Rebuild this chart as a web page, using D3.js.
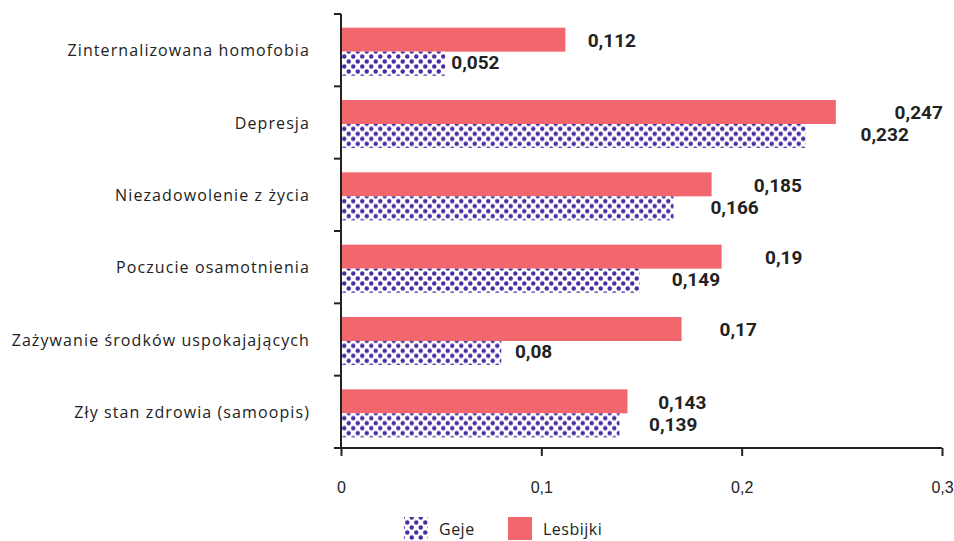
<!DOCTYPE html>
<html>
<head>
<meta charset="utf-8">
<script src="https://cdn.jsdelivr.net/npm/d3@7"></script>
<style>
  html, body { margin: 0; padding: 0; background: #fff; }
  svg { display: block; }
</style>
</head>
<body>
<svg id="chart" width="954" height="541"></svg>
<script>
const categories = [
  "Zinternalizowana homofobia",
  "Depresja",
  "Niezadowolenie z życia",
  "Poczucie osamotnienia",
  "Zażywanie środków uspokajających",
  "Zły stan zdrowia (samoopis)"
];
const seriesNames = ["Lesbijki", "Geje"];
const lesbijki = [0.112, 0.247, 0.185, 0.19, 0.17, 0.143];
const geje = [0.052, 0.232, 0.166, 0.149, 0.08, 0.139];
const lesbijkiLabels = ["0,112", "0,247", "0,185", "0,19", "0,17", "0,143"];
const gejeLabels = ["0,052", "0,232", "0,166", "0,149", "0,08", "0,139"];
const xTicks = [0, 0.1, 0.2, 0.3];
const xTickLabels = ["0", "0,1", "0,2", "0,3"];
const legendItems = ["Geje", "Lesbijki"];

const RED = "#f2676e";
const PURPLE = "#4a2ea3";
const AXIS = "#222";

const svg = d3.select("#chart");
const defs = svg.append("defs");
const pat = defs.append("pattern")
  .attr("id", "dots").attr("patternUnits", "userSpaceOnUse")
  .attr("width", 9).attr("height", 10);
pat.append("rect").attr("width", 9).attr("height", 10).attr("fill", "#fff");
pat.append("circle").attr("cx", 2.25).attr("cy", 2.5).attr("r", 2.2).attr("fill", PURPLE);
pat.append("circle").attr("cx", 6.75).attr("cy", 7.5).attr("r", 2.2).attr("fill", PURPLE);

const x = d3.scaleLinear().domain([0, 0.3]).range([341, 942]);
const y = d3.scaleBand().domain(categories).range([14, 448]).padding(0);
const barH = 24;
const sub = d3.scaleBand().domain(seriesNames)
  .range([(y.step() - 2 * barH) / 2 + 1.5, (y.step() + 2 * barH) / 2 + 1.5]);

const data = categories.map((c, i) => ({
  cat: c,
  vals: [
    { s: "Lesbijki", v: lesbijki[i], label: lesbijkiLabels[i], fill: RED, dy: 1 },
    { s: "Geje", v: geje[i], label: gejeLabels[i], fill: "url(#dots)", dy: -1 }
  ]
}));

const g = svg.append("g");
const groups = g.selectAll("g.cat").data(data).join("g")
  .attr("class", "cat")
  .attr("transform", d => `translate(0,${y(d.cat)})`);

groups.selectAll("rect").data(d => d.vals).join("rect")
  .attr("x", x(0))
  .attr("y", d => sub(d.s))
  .attr("width", d => x(d.v) - x(0))
  .attr("height", sub.bandwidth())
  .attr("fill", d => d.fill);

groups.selectAll("text.val").data(d => d.vals).join("text")
  .attr("class", "val")
  .attr("x", d => x(d.v) + 0.135 * (x(d.v) - x(0)) - 8)
  .attr("y", d => sub(d.s) + sub.bandwidth() / 2 + d.dy)
  .attr("dominant-baseline", "central")
  .attr("font-family", "Roboto, 'DejaVu Sans', sans-serif")
  .attr("font-weight", "bold")
  .attr("font-size", 19)
  .attr("fill", AXIS)
  .text(d => d.label);

// category labels
g.selectAll("text.cat").data(categories).join("text")
  .attr("class", "cat")
  .attr("x", 310)
  .attr("y", d => y(d) + y.step() / 2)
  .attr("text-anchor", "end")
  .attr("dominant-baseline", "central")
  .attr("font-family", "'Open Sans', sans-serif")
  .attr("font-size", 16)
  .attr("letter-spacing", 1.1)
  .attr("fill", AXIS)
  .text(d => d);

// y axis line and boundary ticks
const bounds = categories.map(c => y(c)).concat([y.range()[1]]);
g.append("line")
  .attr("x1", x(0)).attr("x2", x(0))
  .attr("y1", y.range()[0]).attr("y2", y.range()[1])
  .attr("stroke", AXIS).attr("stroke-width", 2);
g.selectAll("line.yt").data(bounds).join("line")
  .attr("class", "yt")
  .attr("x1", x(0) - 7).attr("x2", x(0))
  .attr("y1", d => d).attr("y2", d => d)
  .attr("stroke", AXIS).attr("stroke-width", 2);

// x axis
const xAxis = d3.axisBottom(x).tickValues(xTicks)
  .tickFormat((d, i) => xTickLabels[i]).tickSize(8).tickPadding(26);
const xg = g.append("g").attr("transform", `translate(0,${y.range()[1]})`).call(xAxis);
xg.select(".domain").attr("stroke", AXIS).attr("stroke-width", 2)
  .attr("d", `M${x(0)},0H${x(0.3)}`);
xg.selectAll(".tick line").attr("stroke", AXIS).attr("stroke-width", 2);
xg.selectAll(".tick text")
  .attr("font-family", "'Liberation Sans', Arial, sans-serif")
  .attr("font-size", 16).attr("fill", AXIS);

// legend
const legend = svg.append("g");
const legX = [404, 508];
const legFill = ["url(#dots)", RED];
legendItems.forEach((name, i) => {
  legend.append("rect").attr("x", legX[i]).attr("y", 517)
    .attr("width", 24).attr("height", 23).attr("fill", legFill[i]);
  legend.append("text").attr("x", legX[i] + 35).attr("y", 529)
    .attr("dominant-baseline", "central")
    .attr("font-family", "'Open Sans', sans-serif")
    .attr("font-size", 16).attr("letter-spacing", 0.5)
    .attr("fill", AXIS).text(name);
});
</script>
</body>
</html>
